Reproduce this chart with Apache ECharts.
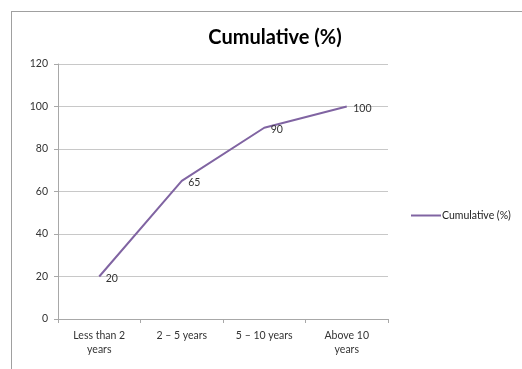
<!DOCTYPE html>
<html><head><meta charset="utf-8">
<script src="https://cdn.jsdelivr.net/npm/echarts@6/dist/echarts.min.js"></script>
<style>html,body{margin:0;padding:0;background:#fff}#c{width:522px;height:369px}
#f{position:absolute;left:11px;top:11px;width:600px;height:400px;border:1px solid #a0a0a0;pointer-events:none}</style>
</head><body><div id="c"></div><div id="f"></div>
<script>
const categories = ['Less than 2\nyears', '2 – 5 years', '5 – 10 years', 'Above 10\nyears'];
const cumulative = [20, 65, 90, 100];
const seriesName = 'Cumulative (%)';
const lineColor = '#8064A2';
const chart = echarts.init(document.getElementById('c'));
chart.setOption({
  animation: false,
  textStyle: {fontFamily: 'Lato'},
  title: {text: 'Cumulative (%)', left: 270, top: 23, textAlign: 'center',
    textStyle: {fontFamily: 'Lato', fontSize: 20, fontWeight: 'bold', color: '#000'}},
  legend: {data: [{name: seriesName, itemStyle: {color: lineColor, opacity: 1}}],
    left: 406, top: 205, itemWidth: 30, itemHeight: 2, itemGap: 0,
    icon: 'rect', textStyle: {fontSize: 10.5, color: '#222', padding: [0,0,0,-4]}},
  grid: {left: 58, right: 134, top: 64, bottom: 50},
  xAxis: {type: 'category', data: categories, boundaryGap: true,
    axisLine: {lineStyle: {color: '#a8a8a8'}},
    axisTick: {show: true, alignWithLabel: false, lineStyle: {color: '#a8a8a8'}, length: 4},
    axisLabel: {fontSize: 10.5, color: '#333', margin: 10, lineHeight: 14}},
  yAxis: {type: 'value', min: 0, max: 120, interval: 20,
    axisLine: {show: true, lineStyle: {color: '#a8a8a8'}},
    axisTick: {show: true, length: 4, lineStyle: {color: '#a8a8a8'}},
    splitLine: {lineStyle: {color: '#c8c8c8'}},
    axisLabel: {fontSize: 10.5, color: '#333', margin: 10}},
  series: [{name: seriesName, type: 'line', data: cumulative, symbol: 'circle', symbolSize: 1,
    showSymbol: true,
    lineStyle: {color: lineColor, width: 2}, itemStyle: {color: 'rgba(0,0,0,0)', borderWidth: 0},
    label: {show: true, position: 'right', distance: 6, offset: [0, 2], fontSize: 10.5, color: '#333'}}]
});
</script></body></html>
